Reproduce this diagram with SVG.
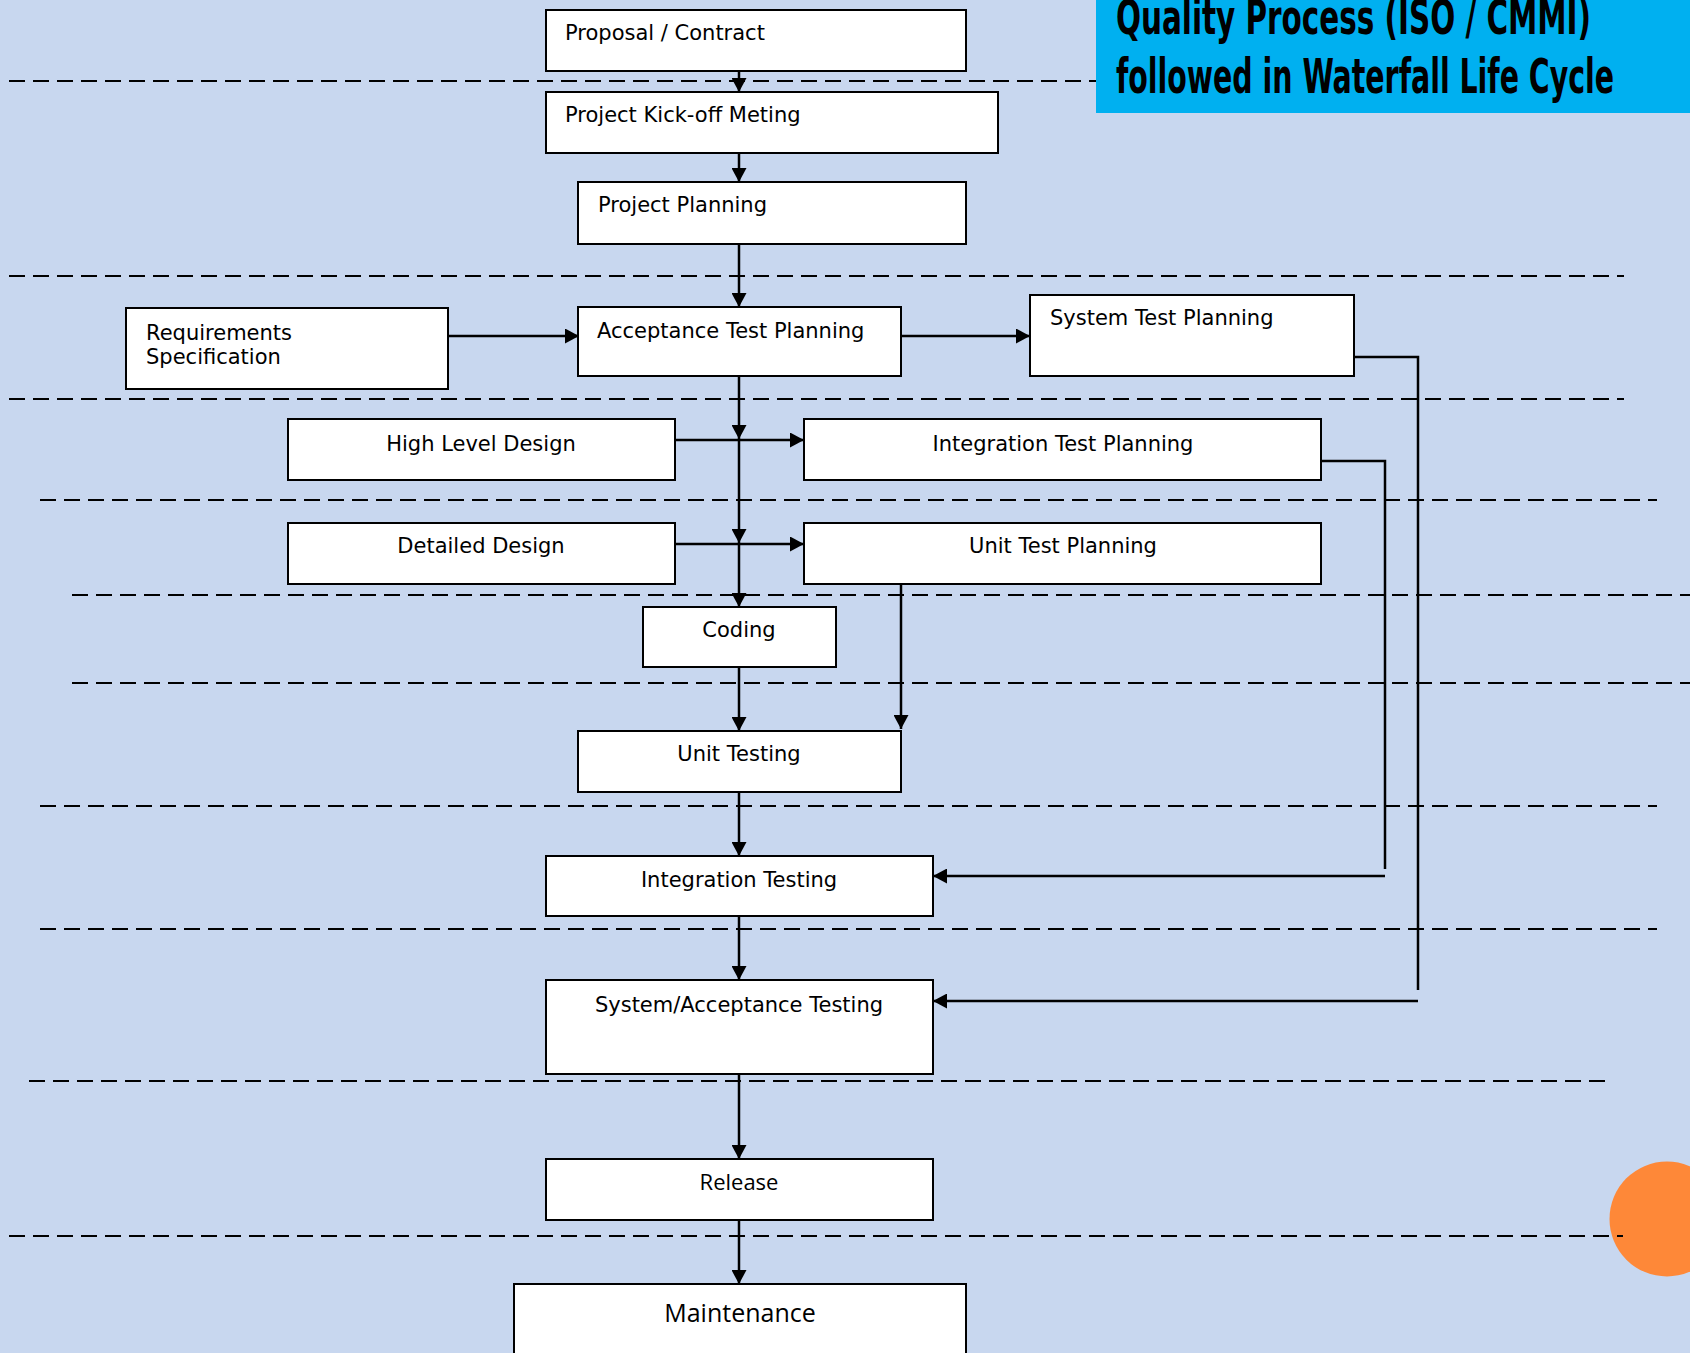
<svg xmlns="http://www.w3.org/2000/svg" width="1690" height="1353" viewBox="0 0 1690 1353">
<style>
.bg{fill:#C8D7EF}
.box{fill:#ffffff;stroke:#000000;stroke-width:2}
.dash{stroke:#000000;stroke-width:2;stroke-dasharray:16 8;fill:none}
.con{stroke:#000000;stroke-width:2.5;fill:none}
.t{font-family:"DejaVu Sans",Verdana,sans-serif;font-size:21px;fill:#000000}
.c{text-anchor:middle}
.t2{font-family:"Open Sans","Noto Sans",sans-serif;fill:#000000;text-anchor:middle}
.title{font-family:"DejaVu Sans Condensed","DejaVu Sans",sans-serif;font-weight:bold;font-size:48px;fill:#000000}
</style>
<defs>
<marker id="arr" viewBox="0 0 14 15" refX="14" refY="7.5" markerWidth="14" markerHeight="15" markerUnits="userSpaceOnUse" orient="auto">
<path d="M0,0 L14,7.5 L0,15 z" fill="#000000"/>
</marker>
</defs>
<rect class="bg" x="0" y="0" width="1690" height="1353"/>
<circle cx="1667" cy="1219" r="57.5" fill="#FE8838"/>
<g id="separators">
<line class="dash" x1="9" y1="81" x2="1100" y2="81"/>
<line class="dash" x1="9" y1="276" x2="1624" y2="276"/>
<line class="dash" x1="9" y1="399" x2="1624" y2="399"/>
<line class="dash" x1="40" y1="500" x2="1657" y2="500"/>
<line class="dash" x1="72" y1="595" x2="1690" y2="595"/>
<line class="dash" x1="72" y1="683" x2="1690" y2="683"/>
<line class="dash" x1="40" y1="806" x2="1657" y2="806"/>
<line class="dash" x1="40" y1="929" x2="1657" y2="929"/>
<line class="dash" x1="29" y1="1081" x2="1608" y2="1081"/>
<line class="dash" x1="9" y1="1236" x2="1623" y2="1236"/>
</g>
<g id="title">
<rect x="1096" y="0" width="594" height="113" fill="#00B0F0"/>
<text class="title" x="1116" y="34" textLength="475" lengthAdjust="spacingAndGlyphs">Quality Process (ISO / CMMI)</text>
<text class="title" x="1116" y="93" textLength="498" lengthAdjust="spacingAndGlyphs">followed in Waterfall Life Cycle</text>
</g>
<g id="connectors">
<line class="con" x1="739" y1="71" x2="739" y2="92" marker-end="url(#arr)"/>
<line class="con" x1="739" y1="153" x2="739" y2="182" marker-end="url(#arr)"/>
<line class="con" x1="739" y1="244" x2="739" y2="307" marker-end="url(#arr)"/>
<line class="con" x1="448" y1="336" x2="579" y2="336" marker-end="url(#arr)"/>
<line class="con" x1="901" y1="336" x2="1030" y2="336" marker-end="url(#arr)"/>
<line class="con" x1="739" y1="376" x2="739" y2="439" marker-end="url(#arr)"/>
<line class="con" x1="739" y1="440" x2="739" y2="543" marker-end="url(#arr)"/>
<line class="con" x1="739" y1="544" x2="739" y2="607" marker-end="url(#arr)"/>
<line class="con" x1="675" y1="440" x2="804" y2="440" marker-end="url(#arr)"/>
<line class="con" x1="675" y1="544" x2="804" y2="544" marker-end="url(#arr)"/>
<line class="con" x1="901" y1="584" x2="901" y2="729" marker-end="url(#arr)"/>
<line class="con" x1="739" y1="667" x2="739" y2="731" marker-end="url(#arr)"/>
<line class="con" x1="739" y1="792" x2="739" y2="856" marker-end="url(#arr)"/>
<line class="con" x1="739" y1="916" x2="739" y2="980" marker-end="url(#arr)"/>
<line class="con" x1="739" y1="1074" x2="739" y2="1159" marker-end="url(#arr)"/>
<line class="con" x1="739" y1="1220" x2="739" y2="1284" marker-end="url(#arr)"/>
<polyline class="con" points="1321,461 1385,461 1385,869"/>
<line class="con" x1="1385" y1="876" x2="933" y2="876" marker-end="url(#arr)"/>
<polyline class="con" points="1354,357 1418,357 1418,990"/>
<line class="con" x1="1418" y1="1001" x2="933" y2="1001" marker-end="url(#arr)"/>
</g>
<g id="n-proposal"><rect class="box" x="546" y="10" width="420" height="61"/><text class="t" x="565" y="40">Proposal / Contract</text></g>
<g id="n-kickoff"><rect class="box" x="546" y="92" width="452" height="61"/><text class="t" x="565" y="122">Project Kick-off Meting</text></g>
<g id="n-planning"><rect class="box" x="578" y="182" width="388" height="62"/><text class="t" x="598" y="212">Project Planning</text></g>
<g id="n-req"><rect class="box" x="126" y="308" width="322" height="81"/><text class="t" x="146" y="340">Requirements</text><text class="t" x="146" y="364">Specification</text></g>
<g id="n-atp"><rect class="box" x="578" y="307" width="323" height="69"/><text class="t" x="597" y="338">Acceptance Test Planning</text></g>
<g id="n-stp"><rect class="box" x="1030" y="295" width="324" height="81"/><text class="t" x="1050" y="325">System Test Planning</text></g>
<g id="n-hld"><rect class="box" x="288" y="419" width="387" height="61"/><text class="t c" x="481" y="451">High Level Design</text></g>
<g id="n-itp"><rect class="box" x="804" y="419" width="517" height="61"/><text class="t c" x="1063" y="451">Integration Test Planning</text></g>
<g id="n-dd"><rect class="box" x="288" y="523" width="387" height="61"/><text class="t c" x="481" y="553">Detailed Design</text></g>
<g id="n-utp"><rect class="box" x="804" y="523" width="517" height="61"/><text class="t c" x="1063" y="553">Unit Test Planning</text></g>
<g id="n-coding"><rect class="box" x="643" y="607" width="193" height="60"/><text class="t c" x="739" y="637">Coding</text></g>
<g id="n-ut"><rect class="box" x="578" y="731" width="323" height="61"/><text class="t c" x="739" y="761">Unit Testing</text></g>
<g id="n-it"><rect class="box" x="546" y="856" width="387" height="60"/><text class="t c" x="739" y="887">Integration Testing</text></g>
<g id="n-sat"><rect class="box" x="546" y="980" width="387" height="94"/><text class="t c" x="739" y="1012">System/Acceptance Testing</text></g>
<g id="n-release"><rect class="box" x="546" y="1159" width="387" height="61"/><text class="t2" x="739" y="1190" font-size="22">Release</text></g>
<g id="n-maint"><rect class="box" x="514" y="1284" width="452" height="80"/><text class="t2" x="740" y="1322" font-size="25">Maintenance</text></g>
</svg>
